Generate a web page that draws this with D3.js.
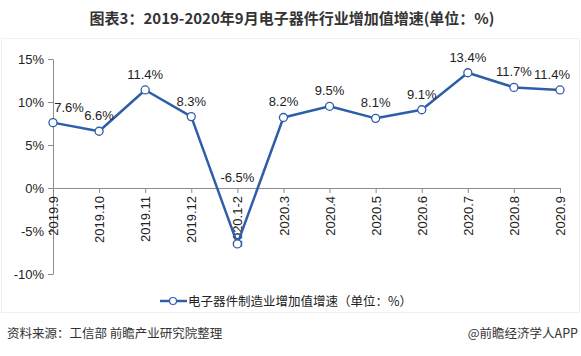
<!DOCTYPE html>
<html><head><meta charset="utf-8">
<script src="https://cdn.jsdelivr.net/npm/d3@7"></script>
<style>
body{margin:0;background:#fff;}
svg{display:block;}
</style>
</head><body>
<svg id="c" width="581" height="356"></svg>
<script>
const categories = ["2019.9","2019.10","2019.11","2019.12","2020.1-2","2020.3","2020.4","2020.5","2020.6","2020.7","2020.8","2020.9"];
const values = [7.6, 6.6, 11.4, 8.3, -6.5, 8.2, 9.5, 8.1, 9.1, 13.4, 11.7, 11.4];
const yTicks = [-10, -5, 0, 5, 10, 15];
const title = "图表3：2019-2020年9月电子器件行业增加值增速(单位：%)";
const seriesName = "电子器件制造业增加值增速（单位：%）";
const source = "资料来源：工信部 前瞻产业研究院整理";
const credit = "@前瞻经济学人APP";

const FONT = "'Liberation Sans', Arial, 'Noto Sans CJK SC', sans-serif";
const CJK = "'Noto Sans CJK SC', 'Liberation Sans', sans-serif";
const blue = "#2f5ea8";
const axisCol = "#8c8c8c";
const txt = "#222";

const svg = d3.select("#c");

// faint panel border
svg.append("rect").attr("x",1.5).attr("y",38.5).attr("width",578).attr("height",274)
  .attr("fill","none").attr("stroke","#f0f0f0");

svg.append("text").attr("x",292).attr("y",24).attr("text-anchor","middle")
  .attr("font-family",CJK).attr("font-weight","bold").attr("font-size",15).attr("fill","#333")
  .text(title);

const x = d3.scalePoint().domain(categories).range([53,560]);
const y = d3.scaleLinear().domain([-10,15]).range([274,59]);

// y axis
const yAxis = d3.axisLeft(y).tickValues(yTicks).tickSize(5).tickSizeOuter(0).tickFormat(d=>d+"%");
const gy = svg.append("g").attr("transform","translate(53,0)").call(yAxis);
gy.select(".domain").attr("stroke",axisCol);
gy.selectAll(".tick line").attr("stroke",axisCol);
gy.selectAll(".tick text").attr("font-family",FONT).attr("font-size",13).attr("fill",txt).attr("x",-9);

// x axis at zero
const xAxis = d3.axisBottom(x).tickSize(5).tickSizeOuter(0);
const gx = svg.append("g").attr("transform",`translate(0,${y(0)})`).call(xAxis);
gx.select(".domain").attr("stroke",axisCol);
gx.selectAll(".tick line").attr("stroke",axisCol);
gx.selectAll(".tick text").attr("font-family",FONT).attr("font-size",13).attr("fill",txt)
  .attr("transform","rotate(-90)").attr("text-anchor","end").attr("x",-8).attr("y",0).attr("dy","0.35em");

// line
const line = d3.line().x((d,i)=>x(categories[i])).y(d=>y(d));
svg.append("path").datum(values).attr("d",line).attr("fill","none")
  .attr("stroke",blue).attr("stroke-width",2.5).attr("stroke-linejoin","round");

svg.selectAll("circle.pt").data(values).join("circle").attr("class","pt")
  .attr("cx",(d,i)=>x(categories[i])).attr("cy",d=>y(d)).attr("r",4)
  .attr("fill","#fff").attr("stroke",blue).attr("stroke-width",1.3);

// labels
const n = values.length;
svg.selectAll("text.lbl").data(values).join("text").attr("class","lbl")
  .attr("x",(d,i)=> x(categories[i]) + (i===0 ? 16 : (i===n-1 ? -8 : 0)))
  .attr("y",d=> d<0 ? y(0)-6 : y(d)-11)
  .attr("text-anchor","middle").attr("font-family",FONT).attr("font-size",13).attr("fill",txt)
  .text(d=>d.toFixed(1)+"%");

// legend
const lg = svg.append("g");
lg.append("line").attr("x1",160).attr("x2",187).attr("y1",301).attr("y2",301).attr("stroke",blue).attr("stroke-width",2.5);
lg.append("circle").attr("cx",173).attr("cy",301).attr("r",3.5).attr("fill","#fff").attr("stroke",blue).attr("stroke-width",1.2);
lg.append("text").attr("x",188).attr("y",305.5).attr("font-family",CJK).attr("font-size",12.5).attr("fill",txt).text(seriesName);

// footer
svg.append("text").attr("x",7).attr("y",338).attr("font-family",CJK).attr("font-size",12.5).attr("fill","#333").text(source);
svg.append("text").attr("x",578).attr("y",338).attr("text-anchor","end").attr("font-family",CJK).attr("font-size",12.5).attr("fill","#333").text(credit);
</script>
</body></html>
